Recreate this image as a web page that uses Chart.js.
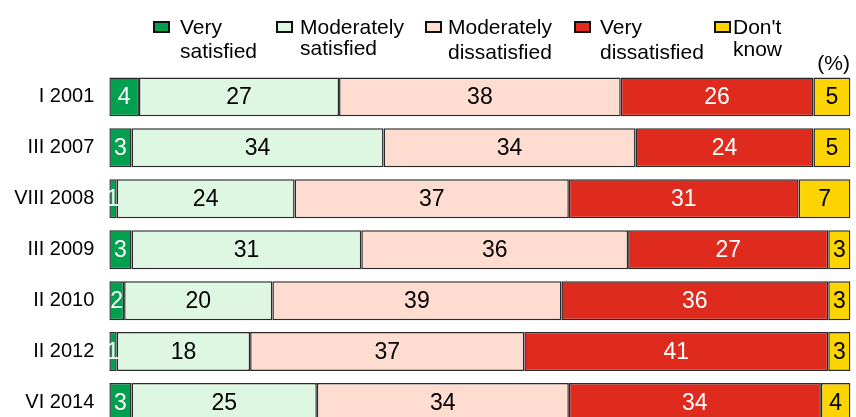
<!DOCTYPE html>
<html>
<head>
<meta charset="utf-8">
<script src="https://cdn.jsdelivr.net/npm/chart.js@4/dist/chart.umd.min.js"></script>
<style>
    html, body { margin: 0; padding: 0; background: #fff; }
    #wrap { width: 856px; height: 417px; overflow: hidden; position: relative; }
    #wrap canvas { display: block; }
</style>
</head>
<body>
<div id="wrap"><canvas id="chart" width="856" height="440"></canvas></div>
<script>
        // Survey rounds (rows, top to bottom)
        const periods = ['I 2001', 'III 2007', 'VIII 2008', 'III 2009', 'II 2010', 'II 2012', 'VI 2014'];

        // Shares in percent
        const verySatisfied       = [4, 3, 1, 3, 2, 1, 3];
        const moderatelySatisfied = [27, 34, 24, 31, 20, 18, 25];
        const moderatelyDissatisfied = [38, 34, 37, 36, 39, 37, 34];
        const veryDissatisfied    = [26, 24, 31, 27, 36, 41, 34];
        const dontKnow            = [5, 5, 7, 3, 3, 3, 4];

        // Legend captions (two lines each)
        const legendLabels = [
            ['Very', 'satisfied'],
            ['Moderately', 'satisfied'],
            ['Moderately', 'dissatisfied'],
            ['Very', 'dissatisfied'],
            ["Don't", 'know']
        ];

        const colors = ['#00a04e', '#ddf7e2', '#fedccf', '#df2b1e', '#fcd400'];
        const labelColors = ['#ffffff', '#000000', '#000000', '#ffffff', '#000000'];
        const textFont = "'Liberation Sans', Arial, sans-serif";

        // Value labels in the middle of each segment
        const valueLabels = {
            id: 'valueLabels',
            afterDatasetsDraw(chart) {
                const ctx = chart.ctx;
                ctx.save();
                ctx.font = '23px ' + textFont;
                ctx.textAlign = 'center';
                ctx.textBaseline = 'middle';
                chart.data.datasets.forEach((ds, i) => {
                    const meta = chart.getDatasetMeta(i);
                    meta.data.forEach((bar, j) => {
                        ctx.fillStyle = labelColors[i];
                        ctx.fillText(String(ds.data[j]), (bar.x + bar.base) / 2, bar.y + 1);
                    });
                });
                ctx.restore();
            }
        };

        // Legend drawn by hand: boxes with two-line captions
        const boxLegend = {
            id: 'boxLegend',
            afterDraw(chart) {
                const ctx = chart.ctx;
                const boxX = [154, 277, 426, 575, 715];
                const textX = [180, 300, 448, 600, 733];
                const line2Y = [58, 55, 59, 58.5, 55.5];
                ctx.save();
                ctx.font = '21px ' + textFont;
                ctx.textBaseline = 'alphabetic';
                ctx.textAlign = 'left';
                legendLabels.forEach((lines, i) => {
                    ctx.fillStyle = colors[i];
                    ctx.fillRect(boxX[i], 22, 15, 10);
                    ctx.strokeStyle = '#111';
                    ctx.lineWidth = 2;
                    ctx.strokeRect(boxX[i], 22, 15, 10);
                    ctx.fillStyle = '#000';
                    ctx.fillText(lines[0], textX[i], 33.5);
                    ctx.fillText(lines[1], textX[i], line2Y[i]);
                });
                ctx.textAlign = 'right';
                ctx.fillText('(%)', 850, 70);
                ctx.restore();
            }
        };

        const ctx = document.getElementById('chart').getContext('2d');
        const series = [verySatisfied, moderatelySatisfied, moderatelyDissatisfied, veryDissatisfied, dontKnow];

        new Chart(ctx, {
            type: 'bar',
            data: {
                labels: periods,
                datasets: series.map((values, i) => ({
                    label: legendLabels[i].join(' '),
                    data: values,
                    backgroundColor: colors[i],
                    borderColor: '#2a2a2a',
                    borderWidth: 1.5,
                    borderSkipped: false,
                    categoryPercentage: 1,
                    barPercentage: 0.765
                }))
            },
            options: {
                indexAxis: 'y',
                responsive: false,
                animation: false,
                layout: {
                    padding: { top: 71.4, bottom: 12, left: 0, right: 5.5 }
                },
                scales: {
                    x: {
                        stacked: true,
                        min: 0,
                        max: 100,
                        display: false
                    },
                    y: {
                        stacked: true,
                        grid: { display: false, drawTicks: false },
                        border: { display: false },
                        ticks: {
                            color: '#000',
                            padding: 15,
                            font: { family: textFont, size: 20 }
                        },
                        afterFit(scale) {
                            scale.width = 109.3;
                            scale.paddingTop = 0;
                            scale.paddingBottom = 0;
                        }
                    }
                },
                plugins: {
                    legend: { display: false },
                    tooltip: { enabled: false }
                }
            },
            plugins: [valueLabels, boxLegend]
        });
</script>
</body>
</html>
